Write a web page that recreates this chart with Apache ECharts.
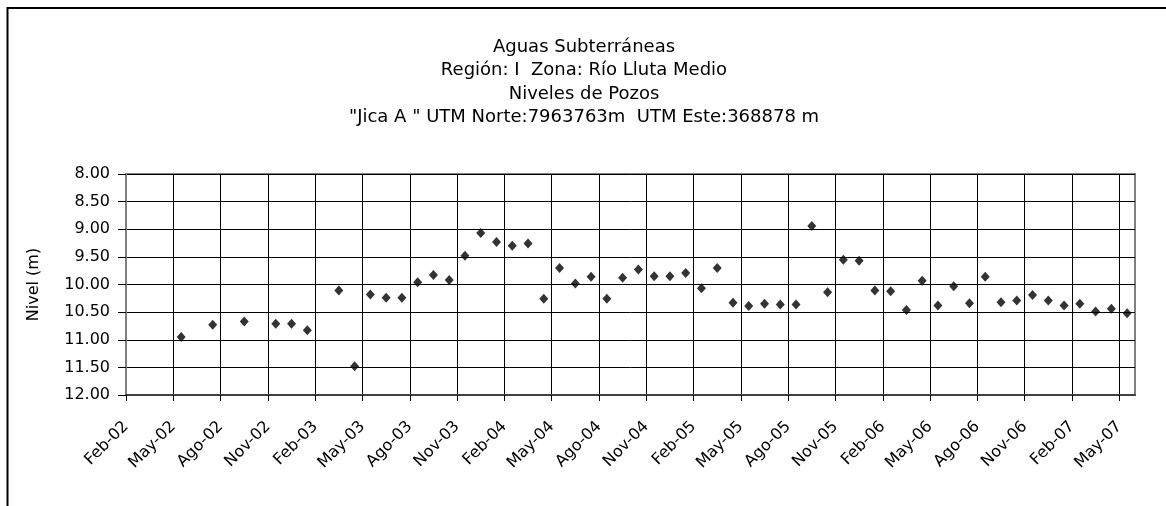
<!DOCTYPE html>
<html>
<head>
<meta charset="utf-8">
<script src="https://cdn.jsdelivr.net/npm/echarts@6/dist/echarts.min.js"></script>
<style>
  html, body { margin: 0; padding: 0; background: #fff; }
  #chart { width: 1166px; height: 506px; }
</style>
</head>
<body>
<div id="chart"></div>
<script>
// títulos
const titleLines = [
  "Aguas Subterráneas",
  "Región: I  Zona: Río Lluta Medio",
  "Niveles de Pozos",
  "\"Jica A \" UTM Norte:7963763m  UTM Este:368878 m",
]

// etiquetas del eje X (cada 3 meses desde Feb-02)
const tickLabels = [
  "Feb-02", "May-02", "Ago-02", "Nov-02", "Feb-03", "May-03", "Ago-03", "Nov-03",
  "Feb-04", "May-04", "Ago-04", "Nov-04", "Feb-05", "May-05", "Ago-05", "Nov-05",
  "Feb-06", "May-06", "Ago-06", "Nov-06", "Feb-07", "May-07",
]

// fechas de medición (mediados de mes)
const dates = [
  "2002-05", "2002-07", "2002-09", "2002-11", "2002-12", "2003-01",
  "2003-03", "2003-04", "2003-05", "2003-06", "2003-07", "2003-08", "2003-09", "2003-10", "2003-11", "2003-12",
  "2004-01", "2004-02", "2004-03", "2004-04", "2004-05", "2004-06", "2004-07", "2004-08", "2004-09", "2004-10", "2004-11", "2004-12",
  "2005-01", "2005-02", "2005-03", "2005-04", "2005-05", "2005-06", "2005-07", "2005-08", "2005-09", "2005-10", "2005-11", "2005-12",
  "2006-01", "2006-02", "2006-03", "2006-04", "2006-05", "2006-06", "2006-07", "2006-08", "2006-09", "2006-10", "2006-11", "2006-12",
  "2007-01", "2007-02", "2007-03", "2007-04", "2007-05",
]

// nivel (m)
const niveles = [
  10.95, 10.73, 10.67, 10.71, 10.71, 10.83,
  10.11, 11.48, 10.18, 10.24, 10.24, 9.96, 9.83, 9.92, 9.48, 9.07,
  9.23, 9.30, 9.26, 10.26, 9.70, 9.98, 9.86, 10.26, 9.88, 9.73, 9.85, 9.85,
  9.79, 10.07, 9.70, 10.33, 10.39, 10.35, 10.36, 10.36, 8.94, 10.14, 9.55, 9.57,
  10.11, 10.12, 10.46, 9.93, 10.38, 10.03, 10.34, 9.86, 10.32, 10.29, 10.19, 10.29,
  10.38, 10.35, 10.49, 10.44, 10.52,
]

const FONT = "DejaVu Sans, Verdana, sans-serif"

// meses contados desde Feb-02
const monthIndex = (s) => {
  const [y, m] = s.split("-").map(Number)
  return (y - 2002) * 12 + (m - 2)
}
const points = dates.map((d, i) => [monthIndex(d) + 0.5, niveles[i]])
const tickValues = tickLabels.map((_, i) => i * 3)

const chart = echarts.init(document.getElementById("chart"))

const titleGraphics = titleLines.map((t, i) => ({
  type: "text",
  x: 584,
  y: 47 + i * 23.5,
  style: {
    text: t,
    fontSize: 18,
    fontFamily: FONT,
    fill: "#000",
    align: "center",
    verticalAlign: "middle",
  },
}))

const option = {
  animation: false,
  backgroundColor: "#fff",
  textStyle: { fontFamily: FONT },
  graphic: [
    {
      type: "polyline",
      shape: { points: [[7.5, 520], [7.5, 8], [1170, 8]] },
      style: { stroke: "#000", lineWidth: 2, fill: null },
    },
    ...titleGraphics,
  ],
  grid: {
    left: 126,
    right: 31,
    top: 174,
    bottom: 111,
    show: true,
    borderColor: "#808080",
    borderWidth: 2,
  },
  xAxis: {
    type: "value",
    min: 0,
    max: 64,
    interval: 3,
    axisLine: { show: true, onZero: false, lineStyle: { color: "#404040", width: 2 } },
    axisTick: { show: true, length: 6, customValues: tickValues, lineStyle: { color: "#000" } },
    axisLabel: {
      customValues: tickValues,
      rotate: 45,
      margin: 29,
      fontSize: 16,
      color: "#000",
      formatter: (v) => tickLabels[Math.round(v / 3)] || "",
    },
    splitLine: { show: true, lineStyle: { color: "#000", width: 1 } },
  },
  yAxis: {
    type: "value",
    inverse: true,
    min: 8,
    max: 12,
    interval: 0.5,
    name: "Nivel (m)",
    nameLocation: "middle",
    nameGap: 84,
    nameTextStyle: { fontSize: 16, color: "#000" },
    axisLine: { show: true, lineStyle: { color: "#808080", width: 2 } },
    axisTick: { show: true, length: 8, lineStyle: { color: "#000" } },
    axisLabel: {
      fontSize: 16,
      color: "#000",
      margin: 16,
      formatter: (v) => v.toFixed(2),
    },
    splitLine: { show: true, lineStyle: { color: "#000", width: 1 } },
  },
  series: [
    {
      type: "scatter",
      data: points,
      symbol: "diamond",
      symbolSize: [9, 10],
      itemStyle: { color: "#000" },
    },
  ],
}

chart.setOption(option)
</script>
</body>
</html>
